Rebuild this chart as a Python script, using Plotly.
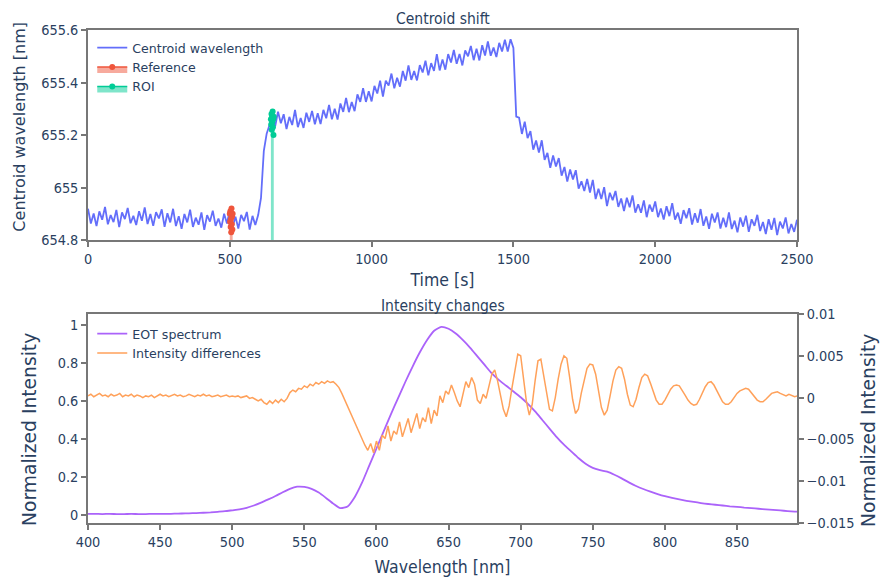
import plotly.graph_objects as go

# ---------------- data ----------------
time_s = list(range(0, 2501, 10))
centroid_nm = [
    654.919, 654.863, 654.901, 654.853, 654.909, 654.877, 654.926, 654.860, 654.895, 654.868,
    654.915, 654.849, 654.905, 654.880, 654.922, 654.864, 654.892, 654.857, 654.910, 654.873,
    654.924, 654.861, 654.899, 654.854, 654.906, 654.882, 654.917, 654.850, 654.902, 654.867,
    654.919, 654.853, 654.891, 654.843, 654.899, 654.867, 654.916, 654.850, 654.885, 654.858,
    654.905, 654.839, 654.895, 654.870, 654.912, 654.854, 654.882, 654.847, 654.900, 654.863,
    654.914, 654.851, 654.889, 654.844, 654.896, 654.872, 654.907, 654.840, 654.892, 654.857,
    654.895, 654.960, 655.140, 655.205, 655.238, 655.255, 655.233, 655.289, 655.245, 655.279,
    655.223, 655.269, 655.238, 655.296, 655.230, 655.265, 655.227, 655.285, 655.250, 655.292,
    655.241, 655.283, 655.242, 655.296, 655.264, 655.315, 655.260, 655.300, 655.259, 655.320,
    655.288, 655.341, 655.287, 655.326, 655.291, 655.355, 655.326, 655.378, 655.326, 655.367,
    655.328, 655.387, 655.358, 655.407, 655.346, 655.407, 655.388, 655.434, 655.378, 655.418,
    655.384, 655.444, 655.407, 655.465, 655.410, 655.444, 655.408, 655.466, 655.438, 655.483,
    655.427, 655.474, 655.444, 655.508, 655.446, 655.488, 655.449, 655.508, 655.476, 655.524,
    655.471, 655.509, 655.465, 655.522, 655.500, 655.539, 655.485, 655.529, 655.484, 655.542,
    655.503, 655.556, 655.502, 655.533, 655.497, 655.551, 655.518, 655.563, 655.518, 655.565,
    655.532, 655.270, 655.266, 655.204, 655.251, 655.188, 655.215, 655.144, 655.179, 655.133,
    655.180, 655.105, 655.132, 655.075, 655.122, 655.080, 655.112, 655.045, 655.078, 655.023,
    655.069, 655.031, 655.066, 654.996, 655.024, 654.987, 655.033, 654.981, 655.029, 654.956,
    654.995, 654.956, 655.001, 654.929, 654.980, 654.952, 654.987, 654.926, 654.958, 654.910,
    654.961, 654.925, 654.970, 654.904, 654.936, 654.904, 654.951, 654.887, 654.935, 654.908,
    654.947, 654.887, 654.920, 654.878, 654.929, 654.891, 654.940, 654.878, 654.904, 654.862,
    654.914, 654.883, 654.921, 654.859, 654.902, 654.866, 654.918, 654.854, 654.890, 654.843,
    654.900, 654.867, 654.905, 654.844, 654.885, 654.849, 654.905, 654.842, 654.874, 654.829,
    654.886, 654.851, 654.893, 654.831, 654.879, 654.854, 654.896, 654.834, 654.869, 654.823,
    654.879, 654.839, 654.884, 654.819, 654.870, 654.844, 654.886, 654.825, 654.861, 654.831,
    654.877,
]

ref_time = [500, 501, 502, 503, 504, 505, 506, 507, 508, 509, 510]
ref_nm = [654.90, 654.87, 654.91, 654.85, 654.88, 654.83, 654.92, 654.86, 654.89, 654.84, 654.90]

roi_time = [645, 646, 647, 648, 649, 650, 651, 652, 653, 654, 655]
roi_nm = [655.26, 655.24, 655.28, 655.22, 655.27, 655.25, 655.29, 655.23, 655.26, 655.20, 655.27]

wl_eot = list(range(400, 896, 5))
eot_norm = [
    0.006, 0.006, 0.005, 0.006, 0.005, 0.005, 0.006, 0.005, 0.005, 0.006,
    0.006, 0.006, 0.007, 0.008, 0.009, 0.010, 0.012, 0.014, 0.017, 0.020,
    0.025, 0.030, 0.038, 0.050, 0.065, 0.082, 0.100, 0.120, 0.138, 0.149,
    0.148, 0.138, 0.118, 0.090, 0.060, 0.036, 0.045, 0.095, 0.170, 0.260,
    0.350, 0.440, 0.530, 0.615, 0.700, 0.780, 0.855, 0.920, 0.970, 0.990,
    0.980, 0.955, 0.920, 0.880, 0.835, 0.790, 0.745, 0.710, 0.680, 0.650,
    0.620, 0.585, 0.545, 0.500, 0.455, 0.410, 0.370, 0.335, 0.300, 0.270,
    0.248, 0.236, 0.228, 0.212, 0.193, 0.172, 0.153, 0.137, 0.123, 0.110,
    0.099, 0.090, 0.082, 0.075, 0.069, 0.063, 0.058, 0.054, 0.050, 0.046,
    0.043, 0.039, 0.036, 0.033, 0.030, 0.027, 0.024, 0.021, 0.018, 0.016,
]

wl_diff = list(range(400, 895, 2))
intensity_diff = [
    0.0002, 0.0004, 0.0001, 0.0003, 0.0005, 0.0002, 0.0003, 0.0001, 0.0004, 0.0002,
    0.0003, 0.0005, 0.0001, 0.0003, 0.0002, 0.0004, 0.0001, 0.0003, 0.0002, 0.0000,
    0.0002, 0.0001, 0.0003, 0.0000, 0.0002, 0.0004, 0.0002, 0.0003, 0.0001, 0.0003,
    0.0004, 0.0002, 0.0003, 0.0001, 0.0002, 0.0004, 0.0002, 0.0001, 0.0003, 0.0002,
    0.0004, 0.0002, 0.0003, 0.0001, 0.0002, 0.0003, 0.0001, 0.0002, 0.0003, 0.0001,
    0.0002, 0.0001, 0.0002, 0.0000, 0.0001, 0.0002, -0.0001, 0.0000, -0.0002, -0.0004,
    -0.0002, -0.0006, -0.0008, -0.0004, -0.0007, -0.0003, -0.0006, -0.0002, -0.0005, -0.0001,
    0.0006, 0.0009, 0.0007, 0.0011, 0.0010, 0.0014, 0.0012, 0.0016, 0.0014, 0.0018,
    0.0016, 0.0019, 0.0017, 0.0020, 0.0018, 0.0019, 0.0016, 0.0012, 0.0005, -0.0003,
    -0.0011, -0.0018, -0.0025, -0.0033, -0.0042, -0.0050, -0.0057, -0.0063, -0.0055, -0.0066,
    -0.0052, -0.0063, -0.0045, -0.0049, -0.0034, -0.0052, -0.0040, -0.0044, -0.0029, -0.0047,
    -0.0036, -0.0025, -0.0042, -0.0030, -0.0019, -0.0037, -0.0024, -0.0029, -0.0012, -0.0031,
    -0.0015, -0.0022, 0.0002, -0.0006, 0.0008, 0.0004, 0.0015, 0.0006, -0.0004, -0.0011,
    0.0005, 0.0019, 0.0012, 0.0024, 0.0016, -0.0003, -0.0007, 0.0004, -0.0001, 0.0012,
    0.0028, 0.0033, 0.0020, 0.0003, -0.0014, -0.0023, -0.0010, 0.0012, 0.0035, 0.0052,
    0.0050, 0.0022, -0.0005, -0.0021, -0.0008, 0.0020, 0.0044, 0.0046, 0.0025, 0.0002,
    -0.0014, -0.0016, 0.0000, 0.0022, 0.0040, 0.0050, 0.0047, 0.0024, -0.0002, -0.0019,
    -0.0014, 0.0005, 0.0022, 0.0035, 0.0040, 0.0039, 0.0028, 0.0008, -0.0012, -0.0021,
    -0.0015, 0.0002, 0.0020, 0.0033, 0.0037, 0.0035, 0.0022, 0.0004, -0.0009, -0.0011,
    -0.0002, 0.0012, 0.0024, 0.0028, 0.0026, 0.0017, 0.0006, -0.0003, -0.0008, -0.0008,
    -0.0003, 0.0004, 0.0010, 0.0014, 0.0015, 0.0014, 0.0009, 0.0003, -0.0003, -0.0007,
    -0.0009, -0.0008, -0.0002, 0.0006, 0.0013, 0.0018, 0.0019, 0.0015, 0.0008, 0.0001,
    -0.0005, -0.0008, -0.0008, -0.0005, 0.0000, 0.0005, 0.0008, 0.0010, 0.0011, 0.0010,
    0.0006, 0.0001, -0.0003, -0.0005, -0.0005, -0.0002, 0.0002, 0.0005, 0.0006, 0.0007,
    0.0005, 0.0003, 0.0002, 0.0004, 0.0002, 0.0001, 0.0002, 0.0001,
]

# ---------------- styling ----------------
FONT_H = "DejaVu Sans Condensed, DejaVu Sans"
FONT_V = "DejaVu Sans"
TXT = "#2a3f5f"
LINE = "#777777"

axis_common = dict(showline=True, linecolor=LINE, linewidth=1.5, mirror=True,
                   ticks="outside", ticklen=5, tickcolor=LINE, tickwidth=1.5,
                   showgrid=False, zeroline=False, automargin=False,
                   tickfont=dict(family=FONT_H, size=14.4, color=TXT))

fig = go.Figure()
fig.add_trace(go.Scatter(x=time_s, y=centroid_nm, mode="lines", name="Centroid wavelength",
                         line=dict(color="#636efa", width=1.8), xaxis="x", yaxis="y", legend="legend"))
fig.add_trace(go.Scatter(x=ref_time, y=ref_nm, mode="lines+markers", name="Reference", fill="tozeroy",
                         line=dict(color="#EF553B", width=1.5), marker=dict(size=6),
                         xaxis="x", yaxis="y", legend="legend"))
fig.add_trace(go.Scatter(x=roi_time, y=roi_nm, mode="lines+markers", name="ROI", fill="tozeroy",
                         line=dict(color="#00cc96", width=1.5), marker=dict(size=6),
                         xaxis="x", yaxis="y", legend="legend"))
fig.add_trace(go.Scatter(x=wl_eot, y=eot_norm, mode="lines", name="EOT spectrum",
                         line=dict(color="#ab63fa", width=1.8, shape="spline", smoothing=0.6),
                         xaxis="x2", yaxis="y3", legend="legend2"))
fig.add_trace(go.Scatter(x=wl_diff, y=intensity_diff, mode="lines", name="Intensity differences",
                         line=dict(color="#FFA15A", width=1.5),
                         xaxis="x2", yaxis="y4", legend="legend2"))

top_dom = [0.574, 1.0]
bot_dom = [0.0, 0.424]
LEG_FONT = dict(family=FONT_V, size=12.6, color=TXT)


def ytitle(text, x, y, size):
    return dict(text=text, x=x, y=y, xref="paper", yref="paper", textangle=-90,
                xanchor="center", yanchor="middle", showarrow=False,
                font=dict(family=FONT_V, size=size, color=TXT))


fig.update_layout(
    width=881, height=577,
    margin=dict(l=88, r=84, t=30, b=54, autoexpand=False),
    paper_bgcolor="white", plot_bgcolor="white",
    font=dict(family=FONT_H, size=14, color=TXT),
    showlegend=True,
    legend=dict(x=0.006, y=0.994, xanchor="left", yanchor="top", bgcolor="rgba(0,0,0,0)",
                font=LEG_FONT),
    legend2=dict(x=0.006, y=0.414, xanchor="left", yanchor="top", bgcolor="rgba(0,0,0,0)",
                 font=LEG_FONT),
    xaxis=dict(domain=[0, 1], anchor="y", range=[0, 2500], dtick=500,
               title=dict(text="Time [s]", standoff=8, font=dict(family=FONT_H, size=17.5, color=TXT)),
               **axis_common),
    yaxis=dict(domain=top_dom, anchor="x", range=[654.8, 655.6], dtick=0.2, **axis_common),
    xaxis2=dict(domain=[0, 1], anchor="y3", range=[400, 891.6], dtick=50,
                title=dict(text="Wavelength [nm]", font=dict(family=FONT_H, size=17.5, color=TXT)),
                **axis_common),
    yaxis3=dict(domain=bot_dom, anchor="x2", range=[-0.042, 1.058], dtick=0.2, **axis_common),
    yaxis4=dict(overlaying="y3", side="right", anchor="x2", range=[-0.015, 0.01], dtick=0.005,
                showline=True, linecolor=LINE, linewidth=1.5, ticks="outside", ticklen=5,
                tickcolor=LINE, tickwidth=1.5, showgrid=False, zeroline=False, automargin=False,
                tickfont=dict(family=FONT_H, size=14.4, color=TXT)),
    annotations=[
        dict(text="Centroid shift", x=0.5, y=top_dom[1], xref="paper", yref="paper",
             xanchor="center", yanchor="bottom", yshift=0, showarrow=False,
             font=dict(family=FONT_H, size=15.5, color=TXT)),
        dict(text="Intensity changes", x=0.5, y=bot_dom[1], xref="paper", yref="paper",
             xanchor="center", yanchor="bottom", yshift=-3, showarrow=False,
             font=dict(family=FONT_H, size=15.5, color=TXT)),
        ytitle("Centroid wavelength [nm]", -0.0959, 0.804, 16),
        ytitle("Normalized Intensity", -0.0832, 0.1886, 18.7),
        ytitle("Normalized Intensity", 1.1001, 0.1886, 18.7),
    ],
)

fig.write_html("out.html")
